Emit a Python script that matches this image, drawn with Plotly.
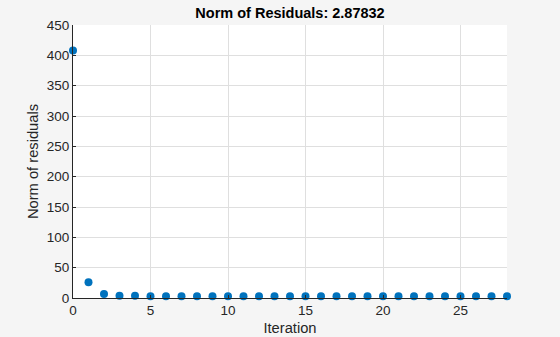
import plotly.graph_objects as go

iterations = list(range(29))
residuals = [408.0, 26.0, 6.6, 3.6, 3.8, 3.0, 2.98, 2.95, 2.93, 2.92, 2.91, 2.905, 2.90, 2.895,
             2.892, 2.89, 2.888, 2.886, 2.885, 2.884, 2.883, 2.882, 2.881, 2.8805, 2.880,
             2.8795, 2.879, 2.8786, 2.87832]
title_text = "Norm of Residuals: 2.87832"
x_ticks = [0, 5, 10, 15, 20, 25]
y_ticks = [0, 50, 100, 150, 200, 250, 300, 350, 400, 450]

axis_color = "#262626"
grid_color = "#dfdfdf"
font_family = "Liberation Sans, Arial, sans-serif"

fig = go.Figure(
    go.Scatter(
        x=iterations, y=residuals, mode="markers",
        marker=dict(color="#0072BD", size=8, line=dict(width=0)),
        cliponaxis=False, showlegend=False,
    )
)

fig.update_layout(
    width=560, height=337,
    margin=dict(l=73, r=53, t=25, b=39),
    paper_bgcolor="#f5f5f5", plot_bgcolor="white",
    font=dict(family=font_family, size=12, color=axis_color),
    title=dict(text="<b>" + title_text + "</b>", x=290 / 560, xanchor="center",
               y=1 - 13 / 337, yanchor="middle",
               font=dict(size=14.5, color="#000000")),
)
fig.update_xaxes(
    range=[0, 28], tickvals=x_ticks, showgrid=True, gridcolor=grid_color, gridwidth=1,
    showline=True, linecolor=axis_color, linewidth=1, zeroline=False, automargin=False,
    ticks="inside", ticklen=3, tickcolor=axis_color, tickfont=dict(size=13.5),
    title=dict(text="Iteration", font=dict(size=14.7, color=axis_color), standoff=5),
)
fig.update_yaxes(
    range=[0, 450], tickvals=y_ticks, showgrid=True, gridcolor=grid_color, gridwidth=1,
    showline=True, linecolor=axis_color, linewidth=1, zeroline=False, automargin=False,
    ticks="inside", ticklen=3, tickcolor=axis_color, tickfont=dict(size=13.5),
    title=dict(text="Norm of residuals", font=dict(size=14.7, color=axis_color), standoff=4),
)

fig.write_html("out.html")
